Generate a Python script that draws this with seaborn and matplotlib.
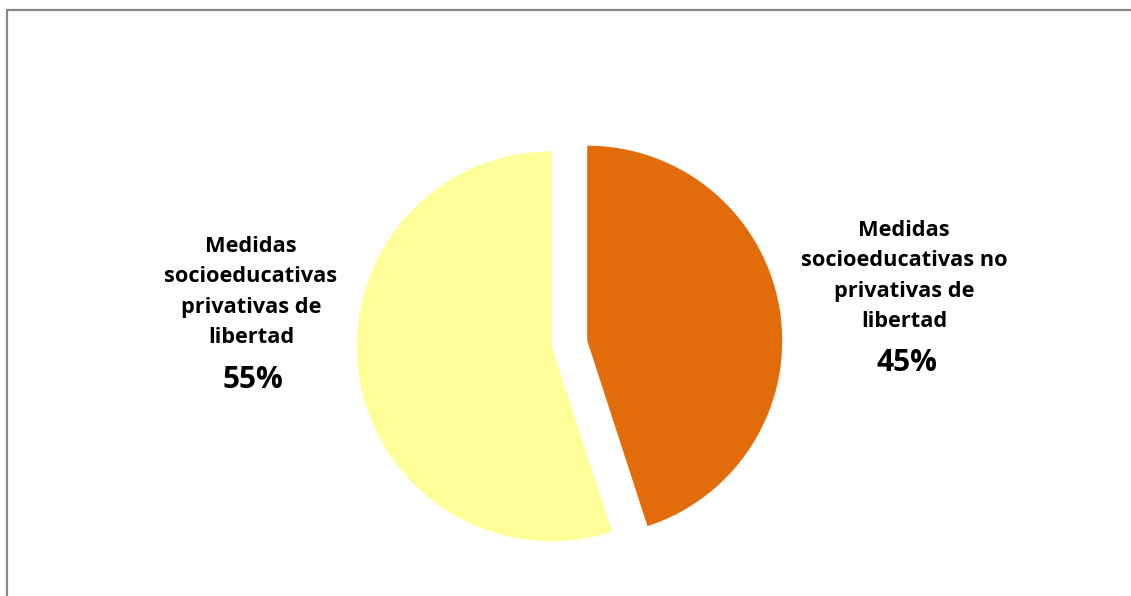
import matplotlib
matplotlib.use("Agg")
import matplotlib.pyplot as plt
import seaborn as sns
from matplotlib.lines import Line2D

categories = ["Medidas\nsocioeducativas no\nprivativas de\nlibertad",
              "Medidas\nsocioeducativas\nprivativas de\nlibertad"]
values = [45, 55]
colors = ["#E36C0A", "#FFFF99"]

sns.set_theme(style="white")
plt.rcParams['font.family'] = ['Open Sans', 'DejaVu Sans']

W, H = 1131, 596
fig = plt.figure(figsize=(W / 100, H / 100), dpi=100)
ax = fig.add_axes([0, 0, 1, 1])

cx, cy, r = 569.5, H - 343.5, 195
ax.pie(values, colors=colors, startangle=90, counterclock=False,
       explode=[0.092 * r, 0.092 * r], radius=r, center=(cx, cy),
       wedgeprops=dict(linewidth=0))
ax.set_xlim(0, W)
ax.set_ylim(0, H)
ax.set_aspect('equal')
ax.axis('off')

# label positions (pixels)
label_pos = [(904, H - 276), (251, H - 292)]
pct_pos = [(907, H - 363), (253, H - 380)]
for cat, val, (lx, ly), (px, py) in zip(categories, values, label_pos, pct_pos):
    ax.text(lx, ly, cat, ha='center', va='center', fontsize=15.7,
            fontweight='bold', color='#000000', linespacing=1.6)
    ax.text(px, py, f"{val}%", ha='center', va='center', fontsize=21.5,
            fontweight='bold', color='#000000')

# chart border (partially visible)
fig.add_artist(Line2D([7 / W, 1.0], [1 - 10 / H, 1 - 10 / H], color='#878787', lw=1.6,
                      transform=fig.transFigure))
fig.add_artist(Line2D([7 / W, 7 / W], [0, 1 - 10 / H], color='#878787', lw=1.6,
                      transform=fig.transFigure))

fig.savefig("out.png", dpi=100)
